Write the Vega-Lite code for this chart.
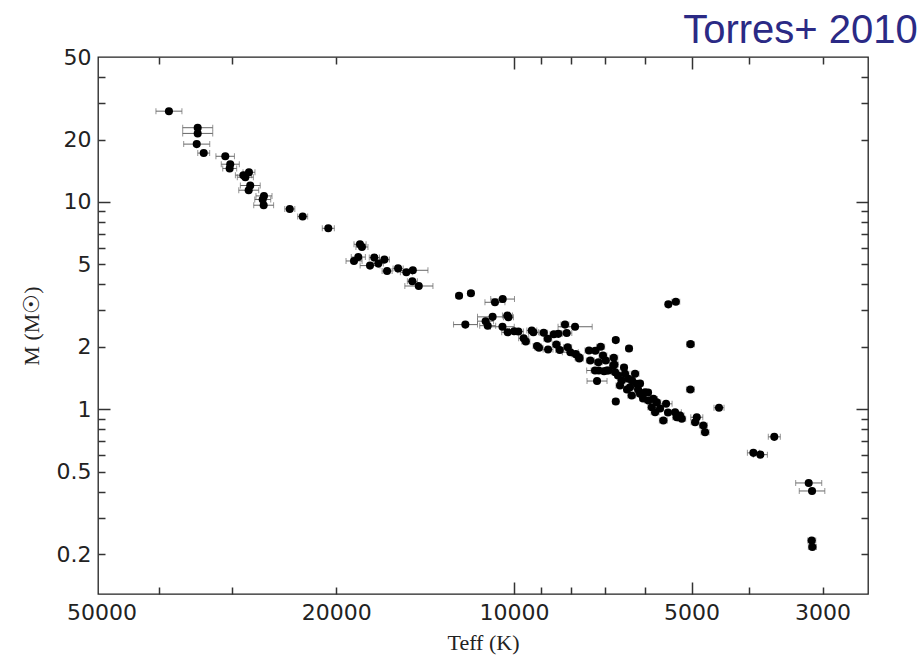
{
  "$schema": "https://vega.github.io/schema/vega-lite/v6.json",
  "width": 770,
  "height": 537,
  "autosize": "none",
  "padding": {"left": 98, "top": 57, "right": 55, "bottom": 67},
  "background": "white",
  "title": {"text": "Torres+ 2010", "anchor": "end", "dx": 49, "dy": 51, "offset": 14, "baseline": "alphabetic", "font": "Liberation Sans", "fontSize": 40, "fontWeight": "normal", "color": "#2b2a85"},
  "config": {"view": {"stroke": "#222", "strokeWidth": 1.3}},
  "data": {"values": [
    {"T": 38440, "M": 27.4, "lo": 36540, "hi": 40440},
    {"T": 34360, "M": 22.8, "lo": 32400, "hi": 36430},
    {"T": 34360, "M": 21.4, "lo": 32400, "hi": 36430},
    {"T": 34490, "M": 19.0, "lo": 32780, "hi": 36290},
    {"T": 33560, "M": 17.2, "lo": 32790, "hi": 34350},
    {"T": 30850, "M": 16.6, "lo": 29770, "hi": 32000},
    {"T": 30260, "M": 15.2, "lo": 29210, "hi": 31340},
    {"T": 30330, "M": 14.5, "lo": 29510, "hi": 31160},
    {"T": 28130, "M": 13.9, "lo": 27480, "hi": 28790},
    {"T": 28750, "M": 13.46, "lo": 27860, "hi": 29660},
    {"T": 28530, "M": 13.16, "lo": 27650, "hi": 29440},
    {"T": 27990, "M": 12.0, "lo": 26920, "hi": 29090},
    {"T": 28160, "M": 11.39, "lo": 27080, "hi": 29270},
    {"T": 26530, "M": 10.69, "lo": 25710, "hi": 27370},
    {"T": 26660, "M": 10.27, "lo": 25840, "hi": 27500},
    {"T": 26560, "M": 9.64, "lo": 25550, "hi": 27610},
    {"T": 23990, "M": 9.25, "lo": 23520, "hi": 24460},
    {"T": 22810, "M": 8.5, "lo": 22370, "hi": 23260},
    {"T": 20640, "M": 7.46, "lo": 20160, "hi": 21130},
    {"T": 18240, "M": 6.25, "lo": 17810, "hi": 18670},
    {"T": 18100, "M": 6.06, "lo": 17680, "hi": 18530},
    {"T": 18360, "M": 5.42, "lo": 17860, "hi": 18870},
    {"T": 18670, "M": 5.19, "lo": 18090, "hi": 19260},
    {"T": 17250, "M": 5.39, "lo": 16910, "hi": 17590},
    {"T": 16980, "M": 5.04, "lo": 16650, "hi": 17320},
    {"T": 17540, "M": 4.93, "lo": 16870, "hi": 18230},
    {"T": 16580, "M": 5.27, "lo": 16260, "hi": 16910},
    {"T": 16410, "M": 4.64, "lo": 16090, "hi": 16730},
    {"T": 15720, "M": 4.78, "lo": 15410, "hi": 16030},
    {"T": 15220, "M": 4.58, "lo": 14870, "hi": 15580},
    {"T": 14840, "M": 4.68, "lo": 13990, "hi": 15740},
    {"T": 14870, "M": 4.14, "lo": 14580, "hi": 15160},
    {"T": 14500, "M": 3.93, "lo": 13720, "hi": 15310},
    {"T": 12390, "M": 3.53, "lo": 12250, "hi": 12540},
    {"T": 11830, "M": 3.63, "lo": 11690, "hi": 11970},
    {"T": 10770, "M": 3.28, "lo": 10360, "hi": 11200},
    {"T": 10450, "M": 3.4, "lo": 9980, "hi": 10950},
    {"T": 12090, "M": 2.56, "lo": 11530, "hi": 12660},
    {"T": 10870, "M": 2.79, "lo": 10250, "hi": 11530},
    {"T": 10260, "M": 2.83, "lo": 10060, "hi": 10460},
    {"T": 10220, "M": 2.78, "lo": 10020, "hi": 10420},
    {"T": 11170, "M": 2.66, "lo": 10830, "hi": 11530},
    {"T": 11080, "M": 2.53, "lo": 10740, "hi": 11430},
    {"T": 10460, "M": 2.5, "lo": 9990, "hi": 10960},
    {"T": 10250, "M": 2.35, "lo": 10010, "hi": 10490},
    {"T": 9990, "M": 2.38, "lo": 9790, "hi": 10180},
    {"T": 9830, "M": 2.37, "lo": 9640, "hi": 10020},
    {"T": 9630, "M": 2.2, "lo": 9440, "hi": 9820},
    {"T": 9330, "M": 2.4, "lo": 9150, "hi": 9510},
    {"T": 9270, "M": 2.35, "lo": 9090, "hi": 9450},
    {"T": 9550, "M": 2.12, "lo": 9400, "hi": 9700},
    {"T": 9140, "M": 2.02, "lo": 9000, "hi": 9280},
    {"T": 9070, "M": 1.98, "lo": 8930, "hi": 9210},
    {"T": 8905, "M": 2.34, "lo": 8770, "hi": 9045},
    {"T": 8765, "M": 2.19, "lo": 8630, "hi": 8900},
    {"T": 8755, "M": 1.94, "lo": 8590, "hi": 8925},
    {"T": 8560, "M": 2.3, "lo": 8430, "hi": 8690},
    {"T": 8410, "M": 2.31, "lo": 8280, "hi": 8540},
    {"T": 8195, "M": 2.56, "lo": 8070, "hi": 8325},
    {"T": 8140, "M": 2.33, "lo": 7980, "hi": 8300},
    {"T": 7880, "M": 2.5, "lo": 7370, "hi": 8420},
    {"T": 8475, "M": 2.05, "lo": 8345, "hi": 8610},
    {"T": 8365, "M": 1.93, "lo": 8235, "hi": 8495},
    {"T": 8110, "M": 1.99, "lo": 7985, "hi": 8240},
    {"T": 8025, "M": 1.885, "lo": 7780, "hi": 8280},
    {"T": 7860, "M": 1.844, "lo": 7740, "hi": 7985},
    {"T": 7750, "M": 1.757, "lo": 7630, "hi": 7870},
    {"T": 7425, "M": 1.719, "lo": 7310, "hi": 7540},
    {"T": 7280, "M": 1.915, "lo": 7170, "hi": 7395},
    {"T": 7130, "M": 2.0, "lo": 7020, "hi": 7240},
    {"T": 6722, "M": 2.155, "lo": 6645, "hi": 6800},
    {"T": 6383, "M": 1.965, "lo": 6310, "hi": 6457},
    {"T": 7066, "M": 1.817, "lo": 6960, "hi": 7175},
    {"T": 6990, "M": 1.719, "lo": 6885, "hi": 7100},
    {"T": 6775, "M": 1.771, "lo": 6670, "hi": 6880},
    {"T": 6760, "M": 1.644, "lo": 6655, "hi": 6865},
    {"T": 7185, "M": 1.538, "lo": 6855, "hi": 7530},
    {"T": 7038, "M": 1.526, "lo": 6930, "hi": 7150},
    {"T": 6920, "M": 1.538, "lo": 6815, "hi": 7025},
    {"T": 7232, "M": 1.368, "lo": 6955, "hi": 7520},
    {"T": 7463, "M": 1.92, "lo": 7350, "hi": 7580},
    {"T": 7757, "M": 1.783, "lo": 7637, "hi": 7880},
    {"T": 7194, "M": 1.687, "lo": 7085, "hi": 7305},
    {"T": 7289, "M": 1.538, "lo": 7180, "hi": 7400},
    {"T": 6963, "M": 1.538, "lo": 6858, "hi": 7070},
    {"T": 6785, "M": 1.626, "lo": 6680, "hi": 6890},
    {"T": 6740, "M": 1.509, "lo": 6637, "hi": 6845},
    {"T": 6483, "M": 1.483, "lo": 6384, "hi": 6583},
    {"T": 6568, "M": 1.376, "lo": 6468, "hi": 6670},
    {"T": 6400, "M": 1.402, "lo": 6302, "hi": 6500},
    {"T": 6234, "M": 1.483, "lo": 6139, "hi": 6330},
    {"T": 6612, "M": 1.302, "lo": 6512, "hi": 6715},
    {"T": 6358, "M": 1.277, "lo": 6260, "hi": 6456},
    {"T": 6193, "M": 1.327, "lo": 6100, "hi": 6290},
    {"T": 6316, "M": 1.164, "lo": 6220, "hi": 6413},
    {"T": 6115, "M": 1.187, "lo": 6022, "hi": 6210},
    {"T": 5996, "M": 1.208, "lo": 5905, "hi": 6090},
    {"T": 6722, "M": 1.089, "lo": 6645, "hi": 6800},
    {"T": 5919, "M": 1.102, "lo": 5830, "hi": 6010},
    {"T": 5804, "M": 1.122, "lo": 5715, "hi": 5895},
    {"T": 5728, "M": 1.081, "lo": 5640, "hi": 5818},
    {"T": 5840, "M": 1.022, "lo": 5750, "hi": 5931},
    {"T": 5765, "M": 0.967, "lo": 5677, "hi": 5855},
    {"T": 5524, "M": 1.062, "lo": 5396, "hi": 5655},
    {"T": 5583, "M": 0.882, "lo": 5497, "hi": 5670},
    {"T": 5333, "M": 0.967, "lo": 5205, "hi": 5464},
    {"T": 5231, "M": 0.932, "lo": 5151, "hi": 5312},
    {"T": 5299, "M": 0.915, "lo": 5218, "hi": 5381},
    {"T": 5196, "M": 0.899, "lo": 5117, "hi": 5277},
    {"T": 4900, "M": 0.915, "lo": 4786, "hi": 5016},
    {"T": 4932, "M": 0.865, "lo": 4856, "hi": 5009},
    {"T": 4776, "M": 0.834, "lo": 4703, "hi": 4850},
    {"T": 4744, "M": 0.774, "lo": 4671, "hi": 4818},
    {"T": 6663, "M": 1.455, "lo": 6585, "hi": 6742},
    {"T": 6509, "M": 1.59, "lo": 6433, "hi": 6586},
    {"T": 6308, "M": 1.376, "lo": 6234, "hi": 6383},
    {"T": 6162, "M": 1.245, "lo": 6090, "hi": 6235},
    {"T": 6043, "M": 1.126, "lo": 5972, "hi": 6114},
    {"T": 5655, "M": 1.008, "lo": 5589, "hi": 5722},
    {"T": 5482, "M": 0.964, "lo": 5418, "hi": 5547},
    {"T": 6433, "M": 1.245, "lo": 6358, "hi": 6509},
    {"T": 6115, "M": 1.331, "lo": 6043, "hi": 6187},
    {"T": 5926, "M": 1.204, "lo": 5857, "hi": 5996},
    {"T": 5475, "M": 3.205, "lo": 5410, "hi": 5540},
    {"T": 5318, "M": 3.303, "lo": 5237, "hi": 5400},
    {"T": 5021, "M": 2.061, "lo": 4945, "hi": 5099},
    {"T": 5024, "M": 1.245, "lo": 4948, "hi": 5102},
    {"T": 4493, "M": 1.017, "lo": 4406, "hi": 4582},
    {"T": 3621, "M": 0.736, "lo": 3537, "hi": 3707},
    {"T": 3929, "M": 0.616, "lo": 3838, "hi": 4022},
    {"T": 3823, "M": 0.604, "lo": 3720, "hi": 3930},
    {"T": 3166, "M": 0.441, "lo": 3009, "hi": 3331},
    {"T": 3125, "M": 0.4035, "lo": 2973, "hi": 3285},
    {"T": 3129, "M": 0.2329, "lo": 3080, "hi": 3178},
    {"T": 3121, "M": 0.2164, "lo": 3072, "hi": 3170}
  ]},
  "layer": [
    {
      "mark": {"type": "errorbar", "ticks": {"size": 6, "color": "#666"}, "color": "#666", "thickness": 1},
      "encoding": {
        "x": {"field": "lo", "type": "quantitative", "scale": {"type": "log", "domain": [2512, 50700], "reverse": true, "nice": false, "zero": false}, "axis": null},
        "x2": {"field": "hi"},
        "y": {"field": "M", "type": "quantitative", "scale": {"type": "log", "domain": [0.1285, 50], "nice": false, "zero": false}, "axis": null}
      }
    },
    {
      "mark": {"type": "circle", "size": 65, "color": "#000", "opacity": 1},
      "encoding": {
        "x": {"field": "T", "type": "quantitative",
          "scale": {"type": "log", "domain": [2512, 50700], "reverse": true, "nice": false, "zero": false},
          "axis": {"orient": "bottom", "values": [50000, 20000, 10000, 5000, 3000], "format": "d", "ticks": false,
            "labelPadding": 8, "domain": false, "grid": false, "labelFlush": false, "labelOverlap": false,
            "labelFont": "DejaVu Sans", "labelFontSize": 22, "labelColor": "#222",
            "title": "Teff (K)", "titleFont": "Liberation Serif", "titleFontSize": 22, "titleFontWeight": "normal", "titleColor": "#222", "titlePadding": 9}
        },
        "y": {"field": "M", "type": "quantitative",
          "scale": {"type": "log", "domain": [0.1285, 50], "nice": false, "zero": false},
          "axis": {"orient": "left", "values": [50, 20, 10, 5, 2, 1, 0.5, 0.2], "format": "~g", "ticks": false,
            "labelPadding": 7, "domain": false, "grid": false, "labelFlush": false, "labelOverlap": false,
            "labelFont": "DejaVu Sans", "labelFontSize": 22, "labelColor": "#222",
            "title": "M (M☉)", "titleFont": "Liberation Serif", "titleFontSize": 22, "titleFontWeight": "normal", "titleColor": "#222", "titlePadding": 13}
        }
      }
    },
    {
      "mark": {"type": "circle", "opacity": 0},
      "encoding": {
        "x": {"field": "T", "type": "quantitative",
          "scale": {"type": "log", "domain": [2512, 50700], "reverse": true, "nice": false, "zero": false},
          "axis": {"orient": "top", "offset": -537, "values": [40000, 30000, 20000, 9000, 8000, 7000, 6000, 4000, 3000], "labels": false, "title": null, "tickSize": 7, "domain": false, "grid": false, "tickColor": "#333", "tickWidth": 1.5}
        },
        "y": {"field": "M", "type": "quantitative",
          "scale": {"type": "log", "domain": [0.1285, 50], "nice": false, "zero": false},
          "axis": {"orient": "right", "offset": -770, "values": [40, 30, 20, 9, 8, 7, 6, 5, 4, 3, 2, 0.9, 0.8, 0.7, 0.6, 0.5, 0.4, 0.3, 0.2], "labels": false, "title": null, "tickSize": 7, "domain": false, "grid": false, "tickColor": "#333", "tickWidth": 1.5}
        }
      }
    },
    {
      "mark": {"type": "circle", "opacity": 0},
      "encoding": {
        "x": {"field": "T", "type": "quantitative",
          "scale": {"type": "log", "domain": [2512, 50700], "reverse": true, "nice": false, "zero": false},
          "axis": {"orient": "top", "offset": -537, "values": [10000, 5000], "labels": false, "title": null, "tickSize": 12, "domain": false, "grid": false, "tickColor": "#333", "tickWidth": 1.5}
        },
        "y": {"field": "M", "type": "quantitative",
          "scale": {"type": "log", "domain": [0.1285, 50], "nice": false, "zero": false},
          "axis": {"orient": "right", "offset": -770, "values": [10, 1], "labels": false, "title": null, "tickSize": 12, "domain": false, "grid": false, "tickColor": "#333", "tickWidth": 1.5}
        }
      }
    },
    {
      "mark": {"type": "circle", "opacity": 0},
      "encoding": {
        "x": {"field": "T", "type": "quantitative",
          "scale": {"type": "log", "domain": [2512, 50700], "reverse": true, "nice": false, "zero": false},
          "axis": {"orient": "bottom", "offset": -537, "values": [40000, 30000, 20000, 9000, 8000, 7000, 6000, 4000, 3000], "labels": false, "title": null, "tickSize": 7, "domain": false, "grid": false, "tickColor": "#333", "tickWidth": 1.5}
        },
        "y": {"field": "M", "type": "quantitative",
          "scale": {"type": "log", "domain": [0.1285, 50], "nice": false, "zero": false},
          "axis": {"orient": "left", "offset": -770, "values": [40, 30, 20, 9, 8, 7, 6, 5, 4, 3, 2, 0.9, 0.8, 0.7, 0.6, 0.5, 0.4, 0.3, 0.2], "labels": false, "title": null, "tickSize": 7, "domain": false, "grid": false, "tickColor": "#333", "tickWidth": 1.5}
        }
      }
    },
    {
      "mark": {"type": "circle", "opacity": 0},
      "encoding": {
        "x": {"field": "T", "type": "quantitative",
          "scale": {"type": "log", "domain": [2512, 50700], "reverse": true, "nice": false, "zero": false},
          "axis": {"orient": "bottom", "offset": -537, "values": [10000, 5000], "labels": false, "title": null, "tickSize": 12, "domain": false, "grid": false, "tickColor": "#333", "tickWidth": 1.5}
        },
        "y": {"field": "M", "type": "quantitative",
          "scale": {"type": "log", "domain": [0.1285, 50], "nice": false, "zero": false},
          "axis": {"orient": "left", "offset": -770, "values": [10, 1], "labels": false, "title": null, "tickSize": 12, "domain": false, "grid": false, "tickColor": "#333", "tickWidth": 1.5}
        }
      }
    }
  ],
  "resolve": {"axis": {"x": "independent", "y": "independent"}}
}
